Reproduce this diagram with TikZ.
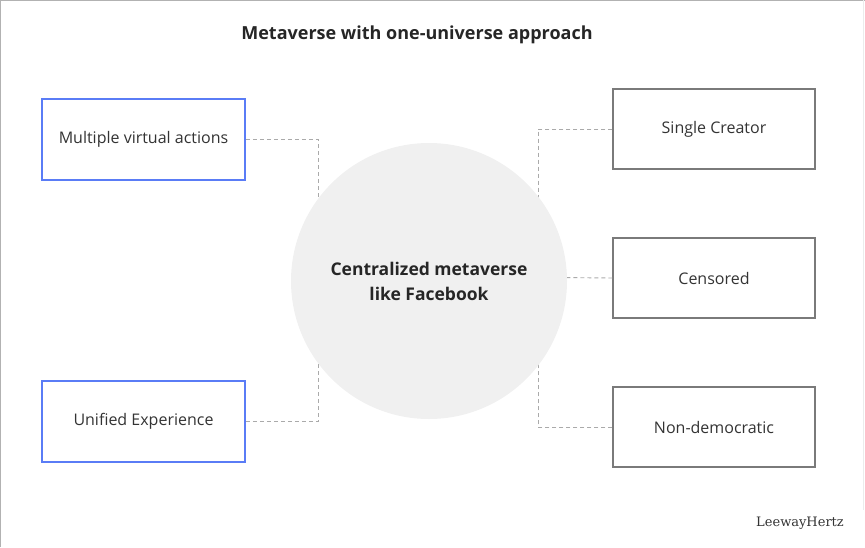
\documentclass[tikz,border=0pt]{standalone}
\usepackage{fontspec}
\setmainfont{Open Sans}
\newfontfamily\brandfont{DejaVu Serif}
\definecolor{boxblue}{HTML}{5A7CF6}
\definecolor{boxgray}{HTML}{7A7A7A}
\definecolor{dashgray}{HTML}{AAAAAA}
\definecolor{circfill}{HTML}{F0F0F0}
\definecolor{txt}{HTML}{333333}
\begin{document}
\begin{tikzpicture}[x=1pt,y=-1pt,
  bluebox/.style={draw=boxblue,line width=1.6pt,minimum width=203pt,minimum height=81pt,inner sep=0pt,font=\fontsize{16}{19}\selectfont,text=txt},
  graybox/.style={draw=boxgray,line width=1.4pt,minimum width=202pt,minimum height=80pt,inner sep=0pt,font=\fontsize{16}{19}\selectfont,text=txt},
  conn/.style={draw=dashgray,line width=0.9pt,dash pattern=on 4pt off 3pt}]
\useasboundingbox (0,0) rectangle (865,547);
\draw[gray!60,line width=1.2pt] (0.6,547) -- (0.6,0.6) -- (865,0.6);
\draw[gray!15,line width=0.8pt] (863,0) -- (863,510);
\node[font=\fontsize{18}{21}\selectfont\bfseries,text=black!85] (title) at (417,35) {Metaverse with one-universe approach};
\node[bluebox] (mva) at (143.5,139.5) {Multiple virtual actions};
\node[bluebox] (ue) at (143.5,421.5) {Unified Experience};
\node[graybox] (sc) at (714,129) {Single Creator};
\node[graybox] (cen) at (714,278) {Censored};
\node[graybox] (nd) at (714,427) {Non-democratic};
\coordinate (cl1) at (318,280);
\coordinate (cl2) at (318,280);
\coordinate (cr1) at (538,280);
\coordinate (cr2) at (538,280);
\coordinate (cr3) at (500,277);
\draw[conn] (mva.east) -| (cl1);
\draw[conn] (ue.east) -| (cl2);
\draw[conn] (sc.west) -| (cr1);
\draw[conn] (nd.west) -| (cr2);
\draw[conn] (cen.west) -- (cr3);
\node[circle,fill=circfill,minimum size=276pt,inner sep=0pt,align=center,font=\fontsize{17.5}{25}\selectfont\bfseries,text=black!85] (circ) at (429,281) {Centralized metaverse\\like Facebook};
\node[font=\brandfont\fontsize{13}{16}\selectfont,text=black!80] (brand) at (800,523) {LeewayHertz};
\end{tikzpicture}
\end{document}
